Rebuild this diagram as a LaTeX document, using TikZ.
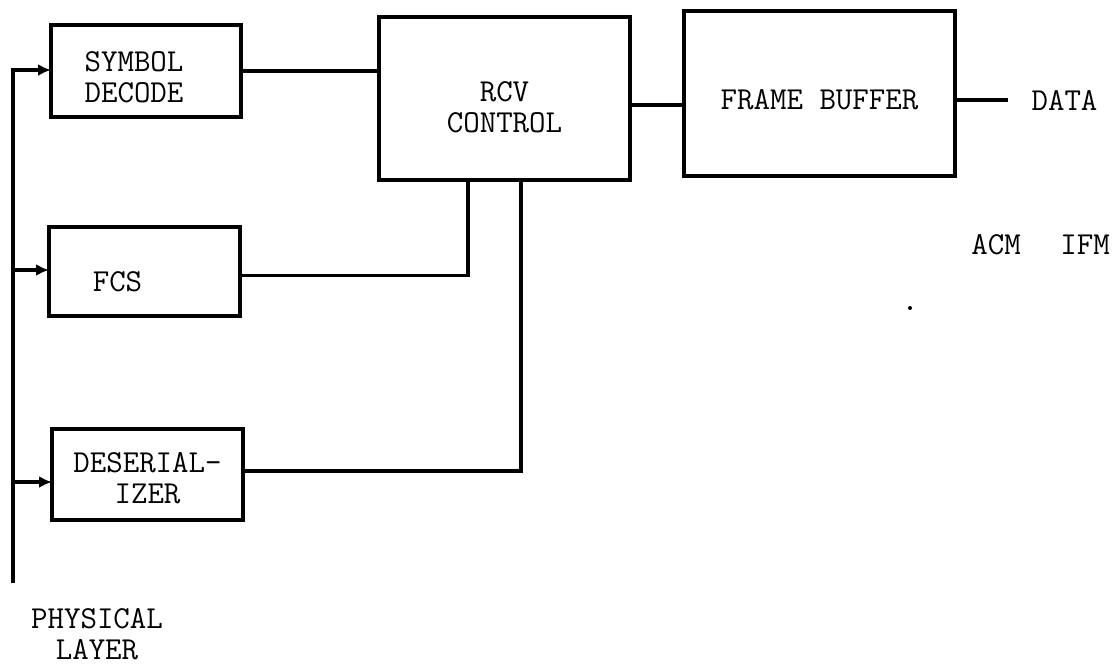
\documentclass[tikz,border=0pt]{standalone}
\usetikzlibrary{arrows.meta}

\begin{document}
\begin{tikzpicture}[x=1pt, y=-1pt, font=\ttfamily\fontsize{32}{31}\selectfont, block/.style={draw, line width=4pt, align=center, inner sep=0pt, outer sep=0pt}, wire/.style={line width=3.5pt}, arrow/.style={wire, -{Latex[length=13pt, width=12pt]}}]
\useasboundingbox (0,0) rectangle (1115,665);
\node[block, minimum width=190pt, minimum height=92pt, label={[xshift=-12pt, yshift=-6pt, align=center]center:SYMBOL\\DECODE}] (sym) at (146,71) {};
\node[block, minimum width=191pt, minimum height=89pt, label={[xshift=-27pt, yshift=-10pt]center:FCS}] (fcs) at (144.5,271.5) {};
\node[block, minimum width=191pt, minimum height=91pt, label={[yshift=-4pt, align=center]center:DESERIAL-\\IZER}] (deser) at (147.5,474.5) {};
\node[block, minimum width=251pt, minimum height=163pt, label={[yshift=-9pt, align=center]center:RCV\\CONTROL}] (rcv) at (504.5,98.5) {};
\node[block, minimum width=271pt, minimum height=165pt, label={[yshift=-6pt]center:FRAME BUFFER}] (fb) at (819.5,93.5) {};
\node[anchor=west] (data) at (1028,100) {DATA};
\node (acm) at (996,245) {ACM};
\node (ifm) at (1085,245) {IFM};
\node[align=center] (phy) at (97,634) {PHYSICAL\\LAYER};
\coordinate (bot) at (13,583);
\fill (910,308) circle (2pt);
\draw[arrow] (bot) |- ([yshift=1pt]sym.west);
\draw[arrow] ([yshift=1.5pt]fcs.west -| bot) -- ([yshift=1.5pt]fcs.west);
\draw[arrow] ([yshift=-7.5pt]deser.west -| bot) -- ([yshift=-7.5pt]deser.west);
\draw[wire] (sym.east) -- (sym.east -| rcv.west);
\draw[wire] ([yshift=-4pt]fcs.east) -| ([xshift=-36.5pt]rcv.south);
\draw[wire] ([yshift=3.5pt]deser.east) -| ([xshift=16.5pt]rcv.south);
\draw[wire] ([yshift=-6.5pt]rcv.east) -- ([yshift=-6.5pt]rcv.east -| fb.west);
\draw[wire] ([yshift=-6.5pt]fb.east) -- ([xshift=-20pt]data.west);
\end{tikzpicture}
\end{document}
